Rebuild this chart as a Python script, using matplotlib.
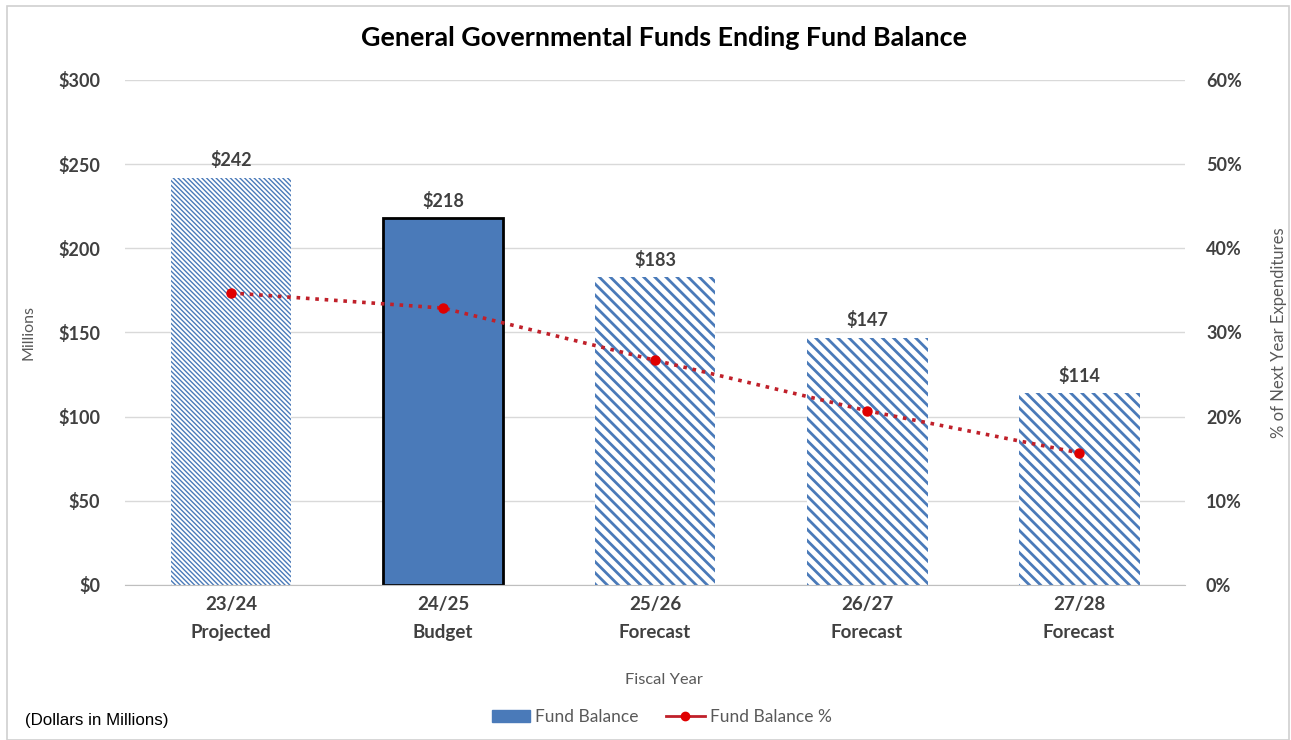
import numpy as np
import matplotlib.pyplot as plt
from matplotlib.lines import Line2D
from matplotlib.patches import Patch, Rectangle

years = ["23/24\nProjected", "24/25\nBudget", "25/26\nForecast", "26/27\nForecast", "27/28\nForecast"]
balance = [242, 218, 183, 147, 114]
balance_pct = [34.7, 32.9, 26.7, 20.7, 15.7]

blue = "#4a7ab9"
red = "#e00000"
dark = "#404040"

plt.rcParams["font.family"] = ["Lato", "DejaVu Sans"]

fig = plt.figure(figsize=(12.91, 7.40), dpi=100)
ax = fig.add_axes([0.0968, 0.2095, 0.8212, 0.6824])
ax2 = ax.twinx()

x = np.arange(len(years))
# projected year gets a fine hatch, forecasts a coarser one, budget is solid
hatches = ["\\" * 7, None, "\\" * 3, "\\" * 3, "\\" * 3]
hatch_lw = [1.0, None, 2.0, 2.0, 2.0]
for i, v in enumerate(balance):
    if hatches[i] is None:
        b = ax.bar(x[i], v, width=0.57, color=blue, edgecolor="black", linewidth=2, zorder=2)
    else:
        with plt.rc_context({"hatch.linewidth": hatch_lw[i]}):
            b = ax.bar(x[i], v, width=0.57, facecolor="white", edgecolor=blue,
                       linewidth=0, hatch=hatches[i], zorder=2)
            for p in b:
                if hasattr(p, "set_hatch_linewidth"):
                    p.set_hatch_linewidth(hatch_lw[i])
    ax.annotate(f"${v}", (x[i], v), xytext=(0, 6), textcoords="offset points",
                ha="center", va="bottom", fontsize=13, color=dark, fontweight="bold")

ax2.plot(x, balance_pct, linestyle=(0, (1, 1.6)), color="#c0202a", linewidth=2.6,
         marker="o", markersize=6.5, markerfacecolor=red, markeredgecolor=red, zorder=3)

ax.set_ylim(0, 300)
ax.set_yticks(np.arange(0, 301, 50))
ax.set_yticklabels([f"${t}" for t in range(0, 301, 50)])
ax2.set_ylim(0, 60)
ax2.set_yticks(np.arange(0, 61, 10))
ax2.set_yticklabels([f"{t}%" for t in range(0, 61, 10)])
ax.set_xlim(-0.5, 4.5)
ax.set_xticks(x)
ax.set_xticklabels(years, linespacing=1.75)

ax.grid(axis="y", color="#d9d9d9", linewidth=1, zorder=0)
ax.set_axisbelow(True)
for a in (ax, ax2):
    for s in a.spines.values():
        s.set_visible(False)
ax.spines["bottom"].set_visible(True)
ax.spines["bottom"].set_color("#bfbfbf")
ax.tick_params(axis="both", length=0, labelsize=13, labelcolor=dark)
ax.tick_params(axis="x", labelsize=13.5, pad=8)
ax.tick_params(axis="y", pad=18)
ax2.tick_params(axis="y", length=0, labelsize=13, labelcolor=dark, pad=15)
for lbl in ax.get_xticklabels() + ax.get_yticklabels() + ax2.get_yticklabels():
    lbl.set_fontweight("bold")

ax.set_ylabel("Millions", fontsize=11.5, color="#595959", labelpad=16)
ax2.set_ylabel("% of Next Year Expenditures", fontsize=12, color="#595959", labelpad=21)
fig.text(0.5140, 0.081, "Fiscal Year", ha="center", va="center", fontsize=11.8, color="#595959")
fig.text(0.5145, 0.948, "General Governmental Funds Ending Fund Balance", ha="center", va="center",
         fontsize=19.4, fontweight="bold", color="black")
fig.text(0.0194, 0.027, "(Dollars in Millions)", ha="left", va="center", fontsize=12.2,
         family="Liberation Sans", color="black")

handles = [Patch(facecolor=blue, edgecolor=blue),
           Line2D([0], [0], color="#c0202a", linewidth=2, marker="o", markersize=6,
                  markerfacecolor=red, markeredgecolor=red)]
fig.legend(handles, ["Fund Balance", "Fund Balance %"], loc="center", bbox_to_anchor=(0.5125, 0.031),
           ncol=2, frameon=False, fontsize=12.5, handlelength=2.2, columnspacing=1.6,
           handletextpad=0.3, labelcolor="#595959")

fig.patches.append(Rectangle((0.0054, 0.0), 0.9930, 0.992, transform=fig.transFigure,
                             fill=False, edgecolor="#d0d0d0", linewidth=1.2))

fig.savefig("out.png", dpi=100)
